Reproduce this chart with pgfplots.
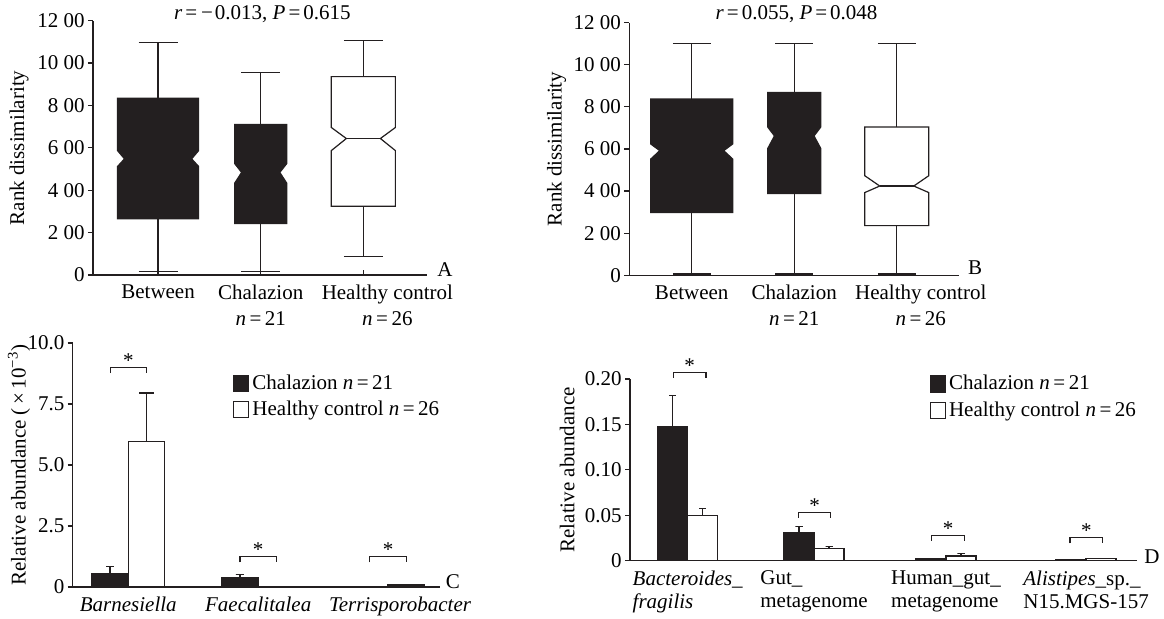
\documentclass[border=0pt]{standalone}
\usepackage{fontspec}
\setmainfont{Liberation Serif}
\usepackage{pgfplots}
\pgfplotsset{compat=1.18}
\definecolor{ink}{RGB}{35,31,32}
\newcommand{\fs}{\fontsize{10.5}{12.8}\selectfont}
\begin{document}
\begin{tikzpicture}[font=\fs]
\useasboundingbox (0,0) rectangle (582pt,309.5pt);
\pgfplotsset{
  base/.style={
    scale only axis, clip=false, anchor=south west,
    axis x line*=bottom, axis y line*=left,
    axis line style={line width=0.6pt, ink, -},
    tick style={line width=0.6pt, ink},
    major tick length=2.5pt,
    ytick align=outside, xtick align=inside,
    tick label style={font=\fs},
    label style={font=\fs},
    yticklabel style={inner sep=1.5pt},
    xticklabel style={align=center, yshift=-1.5pt},
  },
  wh/.style={line width=0.6pt, ink, forget plot, mark=none},
  bx/.style={line width=0.6pt, draw=ink, fill=ink, forget plot, mark=none},
  bxw/.style={line width=0.6pt, draw=ink, fill=white, forget plot, mark=none},
  barb/.style={ybar, fill=ink, draw=ink, line width=0.6pt},
  barw/.style={ybar, fill=white, draw=ink, line width=0.6pt},
  sqb/.style={legend image code/.code={\draw[fill=ink,draw=ink,line width=0.6pt] (0pt,-4pt) rectangle (7.5pt,4pt);}},
  sqw/.style={legend image code/.code={\draw[fill=white,draw=ink,line width=0.6pt] (0pt,-4pt) rectangle (7.5pt,4pt);}},
  lg/.style={legend style={at={(#1)}, anchor=north west, draw=none, fill=none,
      inner sep=0pt, row sep=1.5pt, font=\fs, nodes={inner sep=1.5pt}},
    legend cell align=left},
}
% ---------------- A ----------------
\begin{axis}[base, at={(46.5pt,172pt)}, width=167pt, height=127.15pt,
  xmin=0.366, xmax=3.62, ymin=0, ymax=1200,
  ytick={0,200,400,600,800,1000,1200},
  yticklabels={0,2 00,4 00,6 00,8 00,10 00,12 00},
  xtick={1,2,3},
  xticklabels={Between,{Chalazion\\\textit{n}\,=\,21},{\hspace*{24pt}Healthy control\\\hspace*{24pt}\textit{n}\,=\,26}},
  ylabel={Rank dissimilarity},
  ylabel style={at={(axis description cs:-0.2216,0.5)}, anchor=center},
]
\addplot[wh] coordinates {(1,16) (1,1098)};
\addplot[wh] coordinates {(0.81,16) (1.19,16)};
\addplot[wh] coordinates {(0.81,1098) (1.19,1098)};
\addplot[wh] coordinates {(2,16) (2,955)};
\addplot[wh] coordinates {(1.81,16) (2.19,16)};
\addplot[wh] coordinates {(1.81,955) (2.19,955)};
\addplot[wh] coordinates {(3,88) (3,1106)};
\addplot[wh] coordinates {(2.81,88) (3.19,88)};
\addplot[wh] coordinates {(2.81,1106) (3.19,1106)};
\addplot[bx] coordinates {(0.605,265) (1.395,265) (1.395,512) (1.327,548) (1.395,587) (1.395,834) (0.605,834) (0.605,587) (0.673,548) (0.605,512)} -- cycle;
\addplot[bx] coordinates {(1.746,243) (2.254,243) (2.254,433) (2.186,484) (2.254,526) (2.254,710) (1.746,710) (1.746,526) (1.814,484) (1.746,433)} -- cycle;
\addplot[bxw] coordinates {(2.688,324) (3.312,324) (3.312,587) (3.166,644) (3.312,696) (3.312,936) (2.688,936) (2.688,696) (2.834,644) (2.688,587)} -- cycle;
\addplot[wh] coordinates {(2.834,644) (3.166,644)};
\node at (rel axis cs:0.507,1.026) {\textit{r}\kern1.5pt=\kern2pt−\kern1pt0.013, \textit{P}\kern1.5pt=\kern1.5pt0.615};
\node at (rel axis cs:1.054,0.02) {A};
\end{axis}
% ---------------- B ----------------
\begin{axis}[base, at={(314.65pt,171.85pt)}, width=165pt, height=126.3pt,
  xmin=0.391, xmax=3.61, ymin=0, ymax=1200,
  ytick={0,200,400,600,800,1000,1200},
  yticklabels={0,2 00,4 00,6 00,8 00,10 00,12 00},
  xtick={1,2,3},
  xticklabels={Between,{Chalazion\\\textit{n}\,=\,21},{\hspace*{24pt}Healthy control\\\hspace*{24pt}\textit{n}\,=\,26}},
  ylabel={Rank dissimilarity},
  ylabel style={at={(axis description cs:-0.22,0.5)}, anchor=center},
]
\addplot[wh] coordinates {(1,6) (1,1100)};
\addplot[wh] coordinates {(0.815,6) (1.185,6)};
\addplot[wh] coordinates {(0.815,1100) (1.185,1100)};
\addplot[wh] coordinates {(2,6) (2,1100)};
\addplot[wh] coordinates {(1.815,6) (2.185,6)};
\addplot[wh] coordinates {(1.815,1100) (2.185,1100)};
\addplot[wh] coordinates {(3,6) (3,1100)};
\addplot[wh] coordinates {(2.815,6) (3.185,6)};
\addplot[wh] coordinates {(2.815,1100) (3.185,1100)};
\addplot[bx] coordinates {(0.6,298) (1.4,298) (1.4,552) (1.312,592) (1.4,624) (1.4,837) (0.6,837) (0.6,624) (0.688,592) (0.6,552)} -- cycle;
\addplot[bx] coordinates {(1.742,389) (2.258,389) (2.258,603) (2.193,662) (2.258,704) (2.258,868) (1.742,868) (1.742,704) (1.807,662) (1.742,603)} -- cycle;
\addplot[bxw] coordinates {(2.688,236) (3.312,236) (3.312,393) (3.166,424) (3.312,473) (3.312,704) (2.688,704) (2.688,473) (2.834,424) (2.688,393)} -- cycle;
\addplot[wh] coordinates {(2.834,424) (3.166,424)};
\node at (rel axis cs:0.507,1.034) {\textit{r}\kern1.5pt=\kern1.5pt0.055, \textit{P}\kern1.5pt=\kern1.5pt0.048};
\node at (rel axis cs:1.048,0.029) {B};
\end{axis}
% ---------------- C ----------------
\begin{axis}[base, lg={0.436,0.885}, at={(36.35pt,16pt)}, width=183.65pt, height=122pt,
  xmin=0.572, xmax=3.40, ymin=0, ymax=10,
  ytick={0,2.5,5,7.5,10}, yticklabels={0,2.5,5.0,7.5,10.0},
  xtick={1,2,3}, xtick style={draw=none},
  xticklabels={\textit{Barnesiella},\textit{Faecalitalea},\hspace*{12pt}\textit{Terrisporobacter}},
  ylabel={Relative abundance (\,×\,10\textsuperscript{−3})},
  ylabel style={at={(axis description cs:-0.146,0.5)}, anchor=center},
]
% error bars (mean, mean + SE), drawn under the bars
\addplot[wh] coordinates {(0.8595,0.55) (0.8595,0.84) (0.8285,0.84) (0.8905,0.84)};
\addplot[wh] coordinates {(1.8595,0.39) (1.8595,0.51) (1.8285,0.51) (1.8905,0.51)};
\addplot[wh] coordinates {(1.1405,5.95) (1.1405,7.95) (1.0825,7.95) (1.1985,7.95)};
\addplot[wh] coordinates {(3.1405,0.08) (3.1405,0.09) (3.1095,0.09) (3.1715,0.09)};
\addplot[barb, bar width=0.281, bar shift=-0.1405, sqb] coordinates {(1,0.55) (2,0.39) (3,0.01)};
\addplot[barw, bar width=0.281, bar shift=0.1405, sqw] coordinates {(1,5.95) (2,0.03) (3,0.08)};
\legend{Chalazion \textit{n}\,=\,21, Healthy control \textit{n}\,=\,26}
\addplot[wh] coordinates {(0.86,8.76) (0.86,8.99) (1.14,8.99) (1.14,8.76)};
\addplot[wh] coordinates {(1.86,1.01) (1.86,1.24) (2.14,1.24) (2.14,1.01)};
\addplot[wh] coordinates {(2.86,1.01) (2.86,1.24) (3.14,1.24) (3.14,1.01)};
\node[anchor=base] at (axis cs:1,8.99) {*};
\node[anchor=base] at (axis cs:2,1.24) {*};
\node[anchor=base] at (axis cs:3,1.24) {*};
\node at (rel axis cs:1.035,0.022) {C};
\end{axis}
% ---------------- D ----------------
\begin{axis}[base, lg={0.591,1.04}, at={(315pt,29.15pt)}, width=253.35pt, height=90.85pt,
  xmin=0.543, xmax=4.555, ymin=0, ymax=0.2,
  ytick={0,0.05,0.1,0.15,0.2}, yticklabels={0,0.05,0.10,0.15,0.20},
  xtick={1,2,3.045,4.154}, xtick style={draw=none},
  xticklabel style={align=left, font=\fontsize{10.5}{11.4}\selectfont},
  xticklabels={{\textit{Bacteroides}\_\\\textit{fragilis}},{Gut\_\\metagenome},{Human\_gut\_\\metagenome},{\textit{Alistipes}\_sp.\_\\N15.MGS-157}},
  ylabel={Relative abundance},
  ylabel style={at={(axis description cs:-0.124,0.5)}, anchor=center},
]
% error bars (mean, mean + SE)
\addplot[wh] coordinates {(0.881,0.148) (0.881,0.1814) (0.853,0.1814) (0.909,0.1814)};
\addplot[wh] coordinates {(1.881,0.0313) (1.881,0.0379) (1.853,0.0379) (1.909,0.0379)};
\addplot[wh] coordinates {(1.119,0.0496) (1.119,0.0573) (1.091,0.0573) (1.147,0.0573)};
\addplot[wh] coordinates {(2.119,0.0132) (2.119,0.0154) (2.091,0.0154) (2.147,0.0154)};
\addplot[wh] coordinates {(3.164,0.0052) (3.164,0.008) (3.136,0.008) (3.192,0.008)};
\addplot[barb, bar width=0.2375, bar shift=-0.119, sqb] coordinates {(1,0.148) (2,0.0313) (3.045,0.0025) (4.154,0.0015)};
\addplot[barw, bar width=0.2375, bar shift=0.119, sqw] coordinates {(1,0.0496) (2,0.0132) (3.045,0.0052) (4.154,0.002)};
\legend{Chalazion \textit{n}\,=\,21, Healthy control \textit{n}\,=\,26}
\addplot[wh] coordinates {(0.885,0.2015) (0.885,0.2075) (1.145,0.2075) (1.145,0.2015)};
\addplot[wh] coordinates {(1.876,0.0474) (1.876,0.0533) (2.132,0.0533) (2.132,0.0474)};
\addplot[wh] coordinates {(2.932,0.0217) (2.932,0.0275) (3.19,0.0275) (3.19,0.0217)};
\addplot[wh] coordinates {(4.027,0.019) (4.027,0.0253) (4.286,0.0253) (4.286,0.019)};
\node[anchor=base] at (axis cs:1.015,0.2075) {*};
\node[anchor=base] at (axis cs:2.004,0.0533) {*};
\node[anchor=base] at (axis cs:3.061,0.0275) {*};
\node[anchor=base] at (axis cs:4.156,0.0253) {*};
\node at (rel axis cs:1.03,0.02) {D};
\end{axis}
\end{tikzpicture}
\end{document}
